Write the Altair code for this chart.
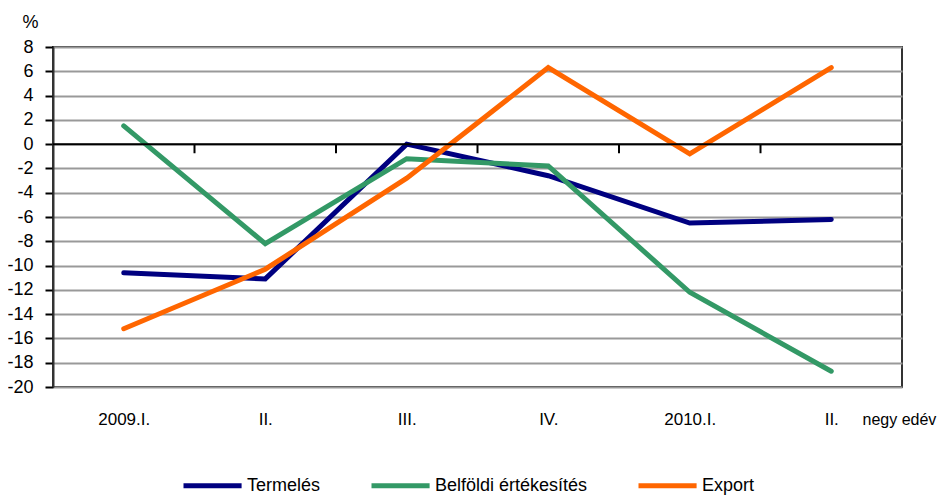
import altair as alt
import pandas as pd

categories = ["2009.I.", "II.", "III.", "IV.", "2010.I.", "II."]
termeles = [-10.6, -11.1, 0.0, -2.6, -6.5, -6.2]
belfoldi = [1.5, -8.2, -1.2, -1.8, -12.2, -18.7]
export = [-15.2, -10.3, -2.8, 6.3, -0.8, 6.3]
series_names = ["Termelés", "Belföldi értékesítés", "Export"]
series_colors = ["#000080", "#339966", "#FF6600"]
y_ticks = list(range(-20, 9, 2))

rows = []
for name, vals in zip(series_names, [termeles, belfoldi, export]):
    for i, v in enumerate(vals):
        rows.append({"idx": i, "cat": categories[i], "series": name, "value": v})
df = pd.DataFrame(rows)

positions = list(range(len(categories)))
boundaries = pd.DataFrame({"b": [p + 0.5 for p in positions[:-1]], "y0": 0.0, "y1": -0.75})
zero_df = pd.DataFrame({"z": [0.0]})

label_expr = "[" + ",".join("'" + c + "'" for c in categories) + "][datum.value]"

FONT = "Liberation Sans"
x_scale = alt.Scale(domain=[-0.5, len(categories) - 0.5], nice=False, zero=False)
y_scale = alt.Scale(domain=[-20, 8], nice=False, zero=False)

x_axis = alt.Axis(
    values=positions,
    labelExpr=label_expr,
    ticks=False,
    domain=False,
    grid=False,
    labelPadding=37,
    labelBaseline="alphabetic",
    labelFontSize=17,
    labelFont=FONT,
    labelColor="black",
    labelFlush=False,
    labelOverlap=False,
    title="negy edév",
    titleX=809,
    titleY=37,
    titleAlign="left",
    titleBaseline="alphabetic",
    titleFontSize=16,
    titleFontWeight="normal",
    titleFont=FONT,
    titleColor="black",
)

y_axis = alt.Axis(
    values=y_ticks,
    tickCount=len(y_ticks),
    labelExpr="'' + datum.value",
    labelOverlap=False,
    grid=True,
    gridColor="#999999",
    gridWidth=2,
    tickSize=8,
    tickColor="black",
    tickWidth=2,
    domainColor="#333333",
    domainWidth=2,
    labelPadding=12,
    labelFontSize=18,
    labelFont=FONT,
    labelColor="black",
    title="%",
    titleAngle=0,
    titleX=-23,
    titleY=-25,
    titleAlign="center",
    titleBaseline="middle",
    titleFontSize=18,
    titleFontWeight="normal",
    titleFont=FONT,
    titleColor="black",
)

lines = alt.Chart(df).mark_line(strokeWidth=5, strokeCap="round").encode(
    x=alt.X("idx:Q", scale=x_scale, axis=x_axis),
    y=alt.Y("value:Q", scale=y_scale, axis=y_axis),
    color=alt.Color(
        "series:N",
        scale=alt.Scale(domain=series_names, range=series_colors),
        legend=alt.Legend(
            title=None,
            orient="none",
            legendX=128,
            legendY=429,
            direction="horizontal",
            symbolType="M-1,0H7.3",
            symbolSize=196,
            symbolStrokeWidth=5,
            labelOffset=47,
            labelFontSize=18,
            labelFont=FONT,
            labelColor="black",
            columnPadding=40,
            padding=0,
        ),
    ),
    order="idx:Q",
)

zero_rule = alt.Chart(zero_df).mark_rule(color="black", strokeWidth=2).encode(
    y=alt.Y("z:Q", scale=y_scale, axis=y_axis)
)

ticks = alt.Chart(boundaries).mark_rule(color="black", strokeWidth=2).encode(
    x=alt.X("b:Q", scale=x_scale, axis=x_axis),
    y=alt.Y("y0:Q", scale=y_scale, axis=y_axis),
    y2="y1:Q",
)

chart = (
    alt.layer(lines, zero_rule, ticks)
    .properties(
        width=849,
        height=340,
        autosize=alt.AutoSizeParams(type="none"),
        padding={"left": 45, "top": 39, "right": 40, "bottom": 109},
    )
    .configure(font=FONT)
    .configure_view(stroke="#333333", strokeWidth=2)
)

chart.save("out.html", embed_options={"renderer": "svg", "actions": False})
